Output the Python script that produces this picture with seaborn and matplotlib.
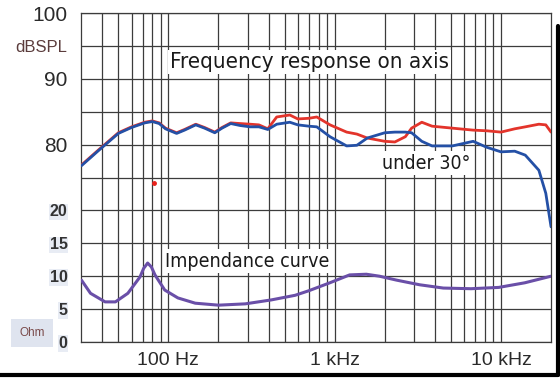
import matplotlib
matplotlib.use("Agg")
import matplotlib.pyplot as plt
import seaborn as sns
import pandas as pd
from matplotlib.ticker import FixedLocator, NullFormatter
from matplotlib.lines import Line2D

# ---------------- 数据 ----------------
freq_hz = [30, 38, 50, 60, 72, 80, 88, 96, 112, 125, 146, 165, 190, 210, 237,
           270, 310, 350, 396, 448, 537, 600, 700, 780, 937, 1180, 1360, 1570,
           2000, 2300, 2660, 2900, 3340, 3850, 5100, 6800, 8200, 10000, 12100,
           14000, 16900, 18600, 20000]
spl_on_axis = [76.9, 79.2, 81.8, 82.7, 83.4, 83.6, 83.3, 82.5, 81.8, 82.3, 83.1,
               82.6, 81.9, 82.6, 83.3, 83.2, 83.1, 83.0, 82.4, 84.2, 84.5, 83.9,
               84.0, 84.2, 83.0, 81.9, 81.6, 81.0, 80.5, 80.4, 81.2, 82.5, 83.4,
               82.8, 82.5, 82.2, 82.1, 81.9, 82.4, 82.7, 83.1, 83.0, 81.9]
spl_30deg = [76.8, 79.1, 81.7, 82.6, 83.3, 83.5, 83.2, 82.4, 81.7, 82.2, 83.0,
             82.5, 81.8, 82.5, 83.2, 82.9, 82.7, 82.7, 82.3, 83.1, 83.4, 83.0,
             82.8, 82.7, 81.2, 79.8, 79.9, 81.0, 81.8, 81.9, 81.9, 81.8, 80.5,
             79.8, 79.8, 80.5, 79.6, 78.9, 79.0, 78.4, 76.1, 72.6, 67.5]

imp_freq_hz = [30, 34, 41.6, 48, 57, 67.5, 71, 75, 79, 83, 95, 114, 145, 200,
               290, 416, 578, 700, 935, 1230, 1550, 1860, 2360, 3240, 4500,
               6600, 9700, 13900, 20000]
imp_ohm = [9.4, 7.4, 6.1, 6.1, 7.4, 9.9, 11.2, 12.0, 11.4, 10.2, 7.9, 6.7, 5.9,
           5.6, 5.8, 6.4, 7.1, 7.8, 9.0, 10.2, 10.3, 10.0, 9.4, 8.7, 8.2, 8.1,
           8.3, 9.0, 10.0]

dot_hz = [82]
dot_db = [74.2]

y_tick_pos = [100, 95, 90, 85, 80, 75, 70, 65, 60, 55, 50]
y_tick_text = ["100", "dBSPL", "90", "", "80", "", "20", "15", "10", "5", "0"]
x_tick_pos = [100, 1000, 10000]
x_tick_text = ["100 Hz", "1 kHz", "10 kHz"]
x_minor_pos = [40, 50, 60, 70, 80, 90, 200, 300, 400, 500, 600, 700, 800, 900,
               2000, 3000, 4000, 5000, 6000, 7000, 8000, 9000]

df_fr = pd.DataFrame({"f": freq_hz, "on": spl_on_axis, "off": spl_30deg})
df_imp = pd.DataFrame({"f": imp_freq_hz, "z": imp_ohm})

# ---------------- 样式 ----------------
sns.set_style("white")
plt.rcParams["font.family"] = ["Liberation Sans", "DejaVu Sans"]
NARROW = ["DejaVu Sans"]
GRID = "#3c3c3c"

fig = plt.figure(figsize=(5.6, 3.78), dpi=100)
ax = fig.add_axes([0.1455, 0.0952, 0.8385, 0.8704])
ax.set_xscale("log")

sns.lineplot(data=df_fr, x="f", y="on", ax=ax, color="#e3342b", lw=2.0, zorder=3)
sns.lineplot(data=df_fr, x="f", y="off", ax=ax, color="#2450a6", lw=2.0, zorder=4)
ax.plot(dot_hz, dot_db, "o", color="#e8221c", ms=2.5, zorder=4)

ax.set_xlim(30, 20000)
ax.set_ylim(50, 100)
ax.set_xlabel("")
ax.set_ylabel("")

ax.xaxis.set_major_locator(FixedLocator(x_tick_pos))
ax.xaxis.set_minor_locator(FixedLocator(x_minor_pos))
ax.xaxis.set_minor_formatter(NullFormatter())
ax.set_xticks(x_tick_pos, x_tick_text)
ax.set_yticks(y_tick_pos, y_tick_text)

ax.grid(which="both", color=GRID, lw=0.9)
ax.set_axisbelow(True)
ax.tick_params(axis="x", which="major", length=4, width=0.9, color=GRID,
               labelsize=14, labelcolor="#2a2a2a", pad=3, direction="out")
ax.tick_params(axis="x", which="minor", length=0)
ax.tick_params(axis="y", length=0, pad=10, labelcolor="#2a2a2a")
for sp in ax.spines.values():
    sp.set_color(GRID)
    sp.set_linewidth(0.9)

for lab in ax.get_yticklabels():
    t = lab.get_text()
    if t in ("100", "90", "80"):
        lab.set_fontsize(15)
    elif t == "dBSPL":
        lab.set_fontsize(12)
        lab.set_color("#5b3c3c")
    else:
        lab.set_fontsize(11.5)
        lab.set_fontweight("bold")
        lab.set_color("#333333")
        lab.set_bbox(dict(facecolor="#e8ecf4", edgecolor="none", pad=0.6))

# 阻抗曲线（右侧隐藏的 0-50 Ohm 坐标）
ax2 = ax.twinx()
sns.lineplot(data=df_imp, x="f", y="z", ax=ax2, color="#6a4fa8", lw=2.2)
ax2.set_ylim(0, 50)
ax2.set_xlim(30, 20000)
ax2.set_xlabel("")
ax2.set_ylabel("")
ax2.set_yticks([])
for sp in ax2.spines.values():
    sp.set_visible(False)

# 文本标注
box = dict(facecolor="white", edgecolor="none", pad=1.5)
ax.text(0.486, 0.851, "Frequency response on axis", transform=ax.transAxes,
        ha="center", va="center", fontsize=16, family=NARROW,
        fontstretch="condensed", color="#1a1a1a", bbox=box, zorder=6)
ax.text(0.734, 0.544, "under 30°", transform=ax.transAxes, ha="center",
        va="center", fontsize=14, family=NARROW, fontstretch="condensed",
        color="#1a1a1a", bbox=box, zorder=6)
ax.text(0.3525, 0.246, "Impendance curve", transform=ax.transAxes, ha="center",
        va="center", fontsize=14, family=NARROW, fontstretch="condensed",
        color="#1a1a1a", bbox=box, zorder=6)

fig.text(0.057, 0.119, "Ohm", ha="center", va="center", fontsize=8.5,
         color="#7a4a4a",
         bbox=dict(facecolor="#dfe4ef", edgecolor="none", boxstyle="square,pad=0.7"))

# 外框阴影线
fig.add_artist(Line2D([0, 0.997], [0.008, 0.008], transform=fig.transFigure,
                      color="black", lw=3))
fig.add_artist(Line2D([0.996, 0.996], [0.008, 0.93], transform=fig.transFigure,
                      color="black", lw=3))

fig.savefig("out.png", dpi=100)
